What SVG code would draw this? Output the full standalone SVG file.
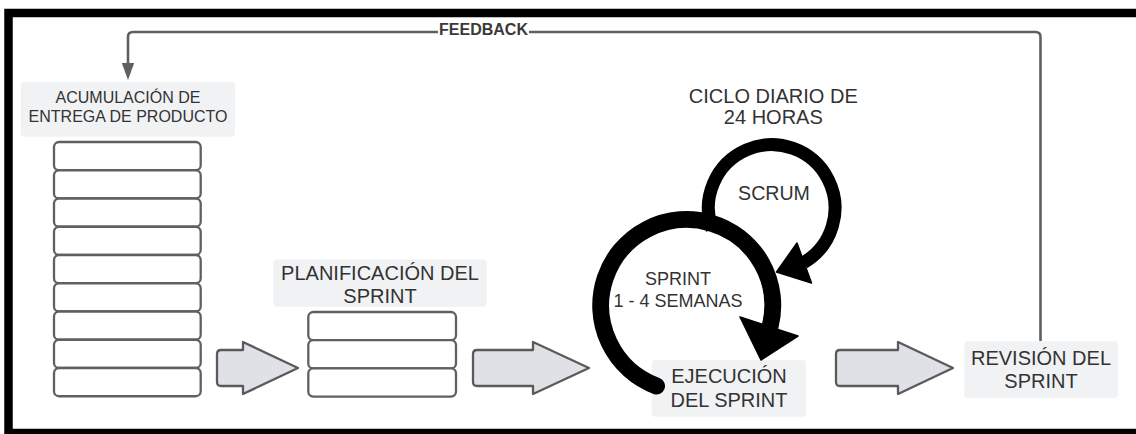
<svg xmlns="http://www.w3.org/2000/svg" width="1136" height="434" viewBox="0 0 1136 434">
  <style>
    .lbl { font-family: "Liberation Sans", Arial, sans-serif; fill: #333333; text-anchor: middle; }
    .box { fill: #f1f2f4; stroke: none; }
    .row { fill: #ffffff; stroke: #606060; stroke-width: 2.3; }
    .block { fill: #dfe1e6; stroke: #5a5a5a; stroke-width: 2.3; stroke-linejoin: round; }
    .wire { fill: none; stroke: #606060; stroke-width: 2.6; }
    .loop { fill: none; stroke: #000000; }
    .head { fill: #000000; stroke: #000000; stroke-width: 1.5; stroke-linejoin: round; }
  </style>

  <rect width="1136" height="434" fill="#ffffff"/>
  <!-- outer frame, right side runs off the canvas -->
  <rect x="8.5" y="13" width="1140" height="420" fill="none" stroke="#000000" stroke-width="8.5"/>

  <!-- product backlog -->
  <g id="backlog">
    <rect class="box" x="20.7" y="81.7" width="214.3" height="55" rx="4"/>
    <text class="lbl" font-size="16" x="128" y="103.3">ACUMULACIÓN DE</text>
    <text class="lbl" font-size="16" x="128" y="121.7">ENTREGA DE PRODUCTO</text>
    <rect class="row" x="54" y="142" width="146.7" height="28.25" rx="5"/>
    <rect class="row" x="54" y="170.25" width="146.7" height="28.25" rx="5"/>
    <rect class="row" x="54" y="198.5" width="146.7" height="28.25" rx="5"/>
    <rect class="row" x="54" y="226.75" width="146.7" height="28.25" rx="5"/>
    <rect class="row" x="54" y="255" width="146.7" height="28.25" rx="5"/>
    <rect class="row" x="54" y="283.25" width="146.7" height="28.25" rx="5"/>
    <rect class="row" x="54" y="311.5" width="146.7" height="28.25" rx="5"/>
    <rect class="row" x="54" y="339.75" width="146.7" height="28.25" rx="5"/>
    <rect class="row" x="54" y="368" width="146.7" height="28.25" rx="5"/>
  </g>

  <!-- sprint planning -->
  <g id="planning">
    <rect class="box" x="273.3" y="259.3" width="213.4" height="47.4" rx="4"/>
    <text class="lbl" font-size="20" x="380" y="280">PLANIFICACIÓN DEL</text>
    <text class="lbl" font-size="20" x="380" y="303.3">SPRINT</text>
    <rect class="row" x="308.3" y="312" width="147.7" height="28.2" rx="5"/>
    <rect class="row" x="308.3" y="340.2" width="147.7" height="28.2" rx="5"/>
    <rect class="row" x="308.3" y="368.4" width="147.7" height="28.2" rx="5"/>
  </g>

  <!-- sprint execution -->
  <g id="execution">
    <rect class="box" x="651.7" y="360" width="154.3" height="56.7" rx="4"/>
    <text class="lbl" font-size="20" x="729" y="383.3">EJECUCIÓN</text>
    <text class="lbl" font-size="20" x="729" y="406.7">DEL SPRINT</text>
  </g>

  <!-- sprint review -->
  <g id="review">
    <rect class="box" x="964.3" y="341.3" width="153.7" height="56.7" rx="4"/>
    <text class="lbl" font-size="20" x="1041" y="364.7">REVISIÓN DEL</text>
    <text class="lbl" font-size="20" x="1041" y="388">SPRINT</text>
  </g>

  <!-- daily cycle caption -->
  <g id="daily-caption">
    <text class="lbl" font-size="20" x="773.3" y="103.3">CICLO DIARIO DE</text>
    <text class="lbl" font-size="20" x="773.3" y="124.3">24 HORAS</text>
  </g>

  <!-- daily scrum loop -->
  <g id="scrum-cycle">
    <path class="loop" stroke-width="13" d="M712.2 229.6 A63.3 63.3 0 1 1 803.7 262.6"/>
    <polygon class="head" points="797,243 811.5,283 776.5,272"/>
    <text class="lbl" font-size="19.6" x="774" y="200">SCRUM</text>
  </g>

  <!-- sprint loop -->
  <g id="sprint-cycle">
    <path class="loop" stroke-width="17" stroke-linecap="round" d="M656.5 386 A86 86 0 1 1 770 327"/>
    <polygon class="head" points="740,317 798,336 761,360"/>
    <text class="lbl" font-size="18" x="678" y="285">SPRINT</text>
    <text class="lbl" font-size="18" x="678" y="306.7">1 - 4 SEMANAS</text>
  </g>

  <g id="connectors">
    <!-- feedback from review back to backlog -->
    <path class="wire" d="M1040.5 341 L1040.5 37 Q1040.5 32 1035.5 32 L529 32"/>
    <path class="wire" d="M438 32 L133 32 Q128 32 128 37 L128 64"/>
    <polygon points="121.8,63 134.2,63 128,80" fill="#606060"/>
    <text x="483.5" y="34.5" font-family="Liberation Sans, Arial, sans-serif" font-weight="bold" font-size="16" fill="#3a3a3a" text-anchor="middle">FEEDBACK</text>
    <!-- flow arrows -->
    <path class="block" d="M243 350 L221 350 Q217 350 217 354 L217 382 Q217 386 221 386 L243 386 L243 394 L298 368 L243 342 Z"/>
    <path class="block" d="M533 350 L477 350 Q473 350 473 354 L473 382 Q473 386 477 386 L533 386 L533 394 L589 368 L533 342 Z"/>
    <path class="block" d="M898 350 L840 350 Q836 350 836 354 L836 382 Q836 386 840 386 L898 386 L898 394 L953 368 L898 342 Z"/>
  </g>
</svg>
